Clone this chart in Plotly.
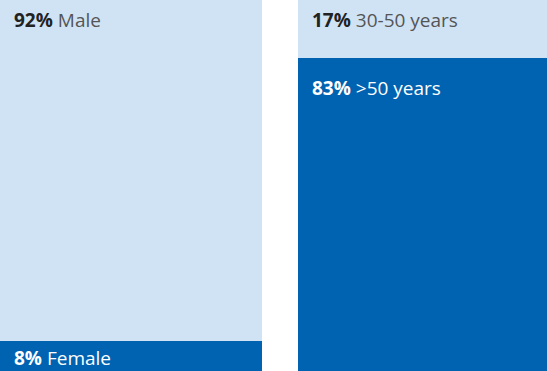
import plotly.graph_objects as go

# Demographic split shown as two 100% stacked columns
groups = ["Gender", "Age"]
bottom_labels = ["Female", ">50 years"]
bottom_values = [8, 83]
top_labels = ["Male", "30-50 years"]
top_values = [92, 17]

LIGHT = "#cfe3f5"
DARK = "#0063b1"
FONT = "Open Sans"
SIZE = 19

x_pos = [0, 1]
bar_w = 0.879
y_top = 0.984

fig = go.Figure()
fig.add_trace(go.Bar(
    x=x_pos, y=[v / 100 for v in bottom_values], width=bar_w,
    marker=dict(color=DARK, line=dict(width=0)), hoverinfo="skip",
))
fig.add_trace(go.Bar(
    x=x_pos, y=[v / 100 for v in top_values], width=bar_w,
    marker=dict(color=LIGHT, line=dict(width=0)), hoverinfo="skip",
))

# Labels sit at the top-left corner of each segment
shifts_bottom = [-2, -15]
shifts_top = [-5, -5]
for i, xc in enumerate(x_pos):
    left = xc - bar_w / 2
    b = bottom_values[i] / 100
    fig.add_annotation(
        x=left, y=b, xref="x", yref="y", xanchor="left", yanchor="top",
        xshift=12, yshift=shifts_bottom[i], showarrow=False,
        text=f"<b>{bottom_values[i]}%</b> {bottom_labels[i]}",
        font=dict(family=FONT, size=SIZE, color="#ffffff"),
    )
    fig.add_annotation(
        x=left, y=y_top, xref="x", yref="y", xanchor="left", yanchor="top",
        xshift=12, yshift=shifts_top[i], showarrow=False,
        text=f"<b style='color:#222222'>{top_values[i]}%</b> <span style='color:#555555'>{top_labels[i]}</span>",
        font=dict(family=FONT, size=SIZE, color="#555555"),
    )

fig.update_layout(
    barmode="stack",
    width=547, height=371,
    margin=dict(l=0, r=0, t=0, b=0),
    paper_bgcolor="white", plot_bgcolor="white",
    showlegend=False,
    xaxis=dict(visible=False, range=[-bar_w / 2, -bar_w / 2 + 547 / 298]),
    yaxis=dict(visible=False, range=[0, y_top]),
)

fig.write_html("out.html")
